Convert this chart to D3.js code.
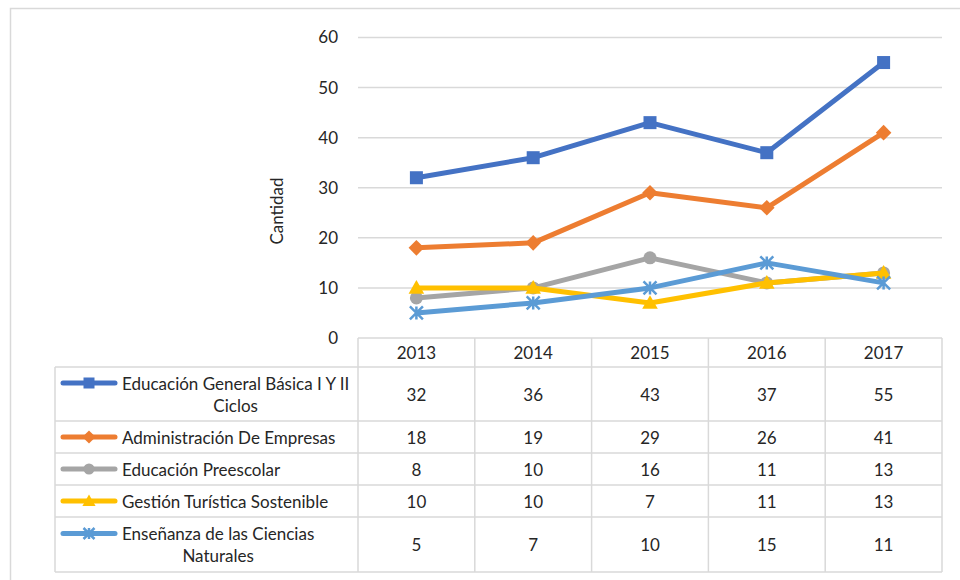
<!DOCTYPE html>
<html>
<head>
<meta charset="utf-8">
<script src="https://cdn.jsdelivr.net/npm/d3@7"></script>
<style>
  body { margin: 0; background: #fff; }
  svg text { font-family: Lato, "Open Sans", sans-serif; fill: #262626; }
</style>
</head>
<body>
<div id="chart"></div>
<script>
// data
var years = ["2013", "2014", "2015", "2016", "2017"];
var seriesNames = [
    ["Educación General Básica I Y II", "Ciclos"],
    ["Administración De Empresas"],
    ["Educación Preescolar"],
    ["Gestión Turística Sostenible"],
    ["Enseñanza de las Ciencias", "Naturales"]
];
var basica = [32, 36, 43, 37, 55];
var empresas = [18, 19, 29, 26, 41];
var preescolar = [8, 10, 16, 11, 13];
var turistica = [10, 10, 7, 11, 13];
var ciencias = [5, 7, 10, 15, 11];
var yTicks = [0, 10, 20, 30, 40, 50, 60];

var seriesValues = [basica, empresas, preescolar, turistica, ciencias];
var colors = ["#4472C4", "#ED7D31", "#A5A5A5", "#FFC000", "#5B9BD5"];
var markers = ["square", "diamond", "circle", "triangle", "star"];

var W = 960, H = 580;
var grid = "#d9d9d9";
var fs = "17px";

var svg = d3.select("#chart").append("svg")
    .attr("width", W).attr("height", H);

// outer frame (cut off at the right / bottom edge)
svg.append("rect")
    .attr("x", 10.5).attr("y", 8.5)
    .attr("width", 1000).attr("height", 1000)
    .attr("fill", "none").attr("stroke", grid).attr("stroke-width", 1.5);

var x = d3.scaleBand().domain(years).range([358, 942]);
var y = d3.scaleLinear().domain([0, 60]).range([338, 37.5]);

// gridlines
svg.append("g").selectAll("line")
    .data(yTicks.filter(function(d){ return d > 0; }))
    .enter().append("line")
    .attr("x1", 358).attr("x2", 942)
    .attr("y1", function(d){ return y(d); })
    .attr("y2", function(d){ return y(d); })
    .attr("stroke", grid).attr("stroke-width", 1.5);

// y axis labels
var yAxis = d3.axisLeft(y).tickValues(yTicks).tickSize(0).tickPadding(0);
var gy = svg.append("g").attr("transform", "translate(338,0)").call(yAxis);
gy.select(".domain").remove();
gy.selectAll("text")
    .style("font-family", "Lato, 'Open Sans', sans-serif")
    .style("font-size", fs).attr("fill", "#262626");

svg.append("text")
    .attr("transform", "translate(276,211) rotate(-90)")
    .attr("text-anchor", "middle").attr("dominant-baseline", "central")
    .style("font-size", fs)
    .text("Cantidad");

// marker drawing
function drawMarker(g, type, color, size) {
    var s = size;
    if (type === "square") {
        g.append("rect").attr("x", -s/2).attr("y", -s/2)
            .attr("width", s).attr("height", s).attr("fill", color);
    } else if (type === "diamond") {
        g.append("path").attr("d", "M0," + (-s*0.6) + "L" + s*0.6 + ",0L0," + s*0.6 + "L" + (-s*0.6) + ",0Z")
            .attr("fill", color);
    } else if (type === "circle") {
        g.append("circle").attr("r", s/2).attr("fill", color);
    } else if (type === "triangle") {
        g.append("path").attr("d", "M0," + (-s*0.6) + "L" + s*0.6 + "," + s*0.45 + "L" + (-s*0.6) + "," + s*0.45 + "Z")
            .attr("fill", color);
    } else if (type === "star") {
        var r = s/2;
        g.append("path")
            .attr("d", "M" + (-r) + "," + (-r) + "L" + r + "," + r +
                       "M" + (-r) + "," + r + "L" + r + "," + (-r) +
                       "M0," + (-r) + "L0," + r)
            .attr("stroke", color).attr("stroke-width", 2.5).attr("fill", "none");
    }
}

var line = d3.line()
    .x(function(d, i){ return x(years[i]) + x.bandwidth()/2; })
    .y(function(d){ return y(d); });

var plot = svg.append("g");
seriesValues.forEach(function(vals, k) {
    var g = plot.append("g");
    g.append("path").datum(vals)
        .attr("d", line)
        .attr("fill", "none")
        .attr("stroke", colors[k])
        .attr("stroke-width", 5)
        .attr("stroke-linejoin", "round");
    vals.forEach(function(v, i) {
        var m = g.append("g")
            .attr("transform", "translate(" + (x(years[i]) + x.bandwidth()/2) + "," + y(v) + ")");
        drawMarker(m, markers[k], colors[k], 13);
    });
});

// data table
var rowEdges = [338, 367, 421, 453, 485, 517, 572];
var tableLeft = 55;
var table = svg.append("g");

// horizontal borders
rowEdges.forEach(function(ry, i) {
    table.append("line")
        .attr("x1", i === 0 ? 358 : tableLeft).attr("x2", 942)
        .attr("y1", ry).attr("y2", ry)
        .attr("stroke", grid).attr("stroke-width", 1.5);
});
// vertical borders
var colEdges = [tableLeft].concat(years.map(function(d){ return x(d); }), [942]);
colEdges.forEach(function(cx, i) {
    table.append("line")
        .attr("x1", cx).attr("x2", cx)
        .attr("y1", i === 0 ? 367 : 338).attr("y2", 572)
        .attr("stroke", grid).attr("stroke-width", 1.5);
});

// header years
table.selectAll("text.year").data(years).enter().append("text")
    .attr("class", "year")
    .attr("x", function(d){ return x(d) + x.bandwidth()/2; })
    .attr("y", (rowEdges[0] + rowEdges[1]) / 2)
    .attr("text-anchor", "middle").attr("dominant-baseline", "central")
    .style("font-size", fs)
    .text(function(d){ return d; });

// rows
seriesValues.forEach(function(vals, k) {
    var top = rowEdges[k + 1], bot = rowEdges[k + 2];
    var mid = (top + bot) / 2;
    var lines = seriesNames[k];
    var firstY = lines.length > 1 ? mid - 11 : mid;

    // legend key
    var key = table.append("g");
    key.append("line")
        .attr("x1", 63).attr("x2", 115)
        .attr("y1", firstY).attr("y2", firstY)
        .attr("stroke", colors[k]).attr("stroke-width", 5)
        .attr("stroke-linecap", "round");
    var km = key.append("g").attr("transform", "translate(89," + firstY + ")");
    drawMarker(km, markers[k], colors[k], 11);

    var t1 = table.append("text")
        .attr("x", 122).attr("y", firstY)
        .attr("dominant-baseline", "central")
        .style("font-size", fs)
        .text(lines[0]);
    if (lines.length > 1) {
        var w = t1.node().getComputedTextLength();
        table.append("text")
            .attr("x", 122 + w / 2).attr("y", firstY + 22)
            .attr("text-anchor", "middle").attr("dominant-baseline", "central")
            .style("font-size", fs)
            .text(lines[1]);
    }

    table.selectAll(null).data(vals).enter().append("text")
        .attr("x", function(d, i){ return x(years[i]) + x.bandwidth()/2; })
        .attr("y", mid)
        .attr("text-anchor", "middle").attr("dominant-baseline", "central")
        .style("font-size", fs)
        .text(function(d){ return d; });
});
</script>
</body>
</html>
